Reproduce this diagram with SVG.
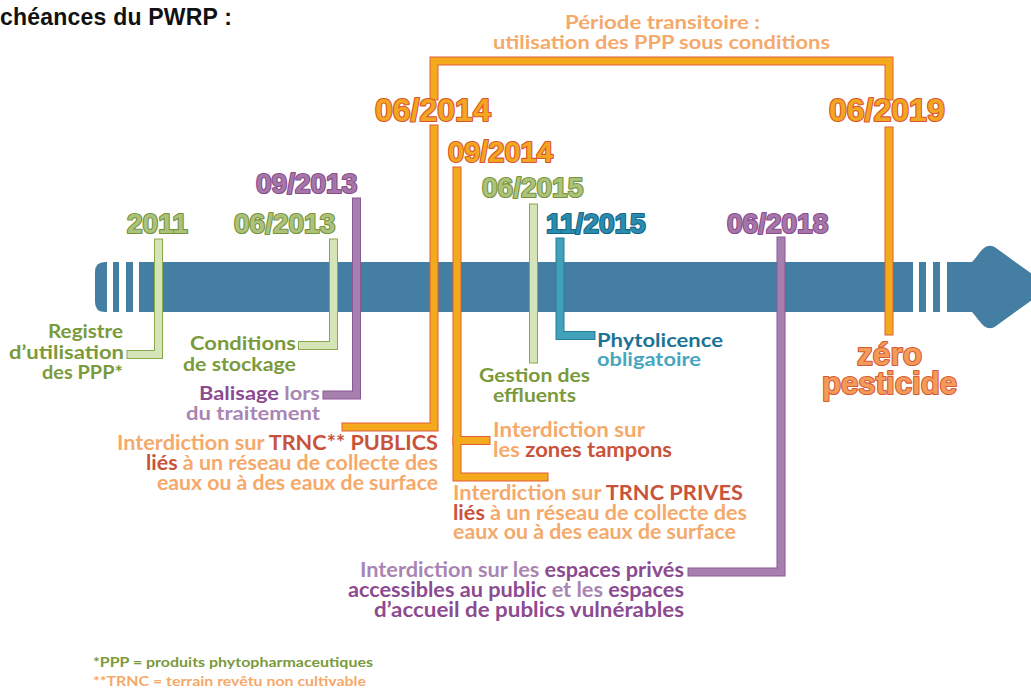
<svg xmlns="http://www.w3.org/2000/svg" xmlns:xlink="http://www.w3.org/1999/xlink" width="1031" height="688" viewBox="0 0 1031 688">
  <style>
    .title { font-family: "Liberation Sans", Arial, sans-serif; font-weight: 700; font-size: 23px; fill: #111; }
    .date { font-family: "Liberation Sans", Arial, sans-serif; font-weight: 700; paint-order: stroke; stroke-width: 2.2; stroke-linejoin: round; }
    .d-green { fill: #abc27c; stroke: #789339; }
    .d-purple { fill: #a676a9; stroke: #874d8c; }
    .d-orange { fill: #f3a61f; stroke: #d9552f; }
    .d-teal { fill: #2a8db0; stroke: #176584; }
    .d-zero { fill: #f39b58; stroke: #d65a36; }
    .lbl { font-family: Lato, "Open Sans", sans-serif; font-weight: 700; font-size: 19px; }
    .big { font-size: 20px; }
    .green { fill: #7a9a3b; }
    .plight { fill: #a985b3; }
    .pdark { fill: #8c4b91; }
    .olight { fill: #f5a96b; }
    .red { fill: #c9533a; }
    .tdark { fill: #1c7394; }
    .tlight { fill: #48a6c0; }
    .foot { font-size: 14px; }
    .ln { fill: none; stroke-linecap: square; stroke-linejoin: miter; }
    .o-green { stroke: #8aa64f; stroke-width: 9; }
    .i-green { stroke: #d5e5b8; stroke-width: 7; }
    .o-purple { stroke: #8a5894; stroke-width: 9; }
    .i-purple { stroke: #a67fae; stroke-width: 7; }
    .o-orange { stroke: #e05d38; stroke-width: 9; }
    .i-orange { stroke: #f3aa1c; stroke-width: 7; }
    .o-teal { stroke: #257f9c; stroke-width: 9; }
    .i-teal { stroke: #41a0ba; stroke-width: 7; }
  </style>
  <defs>
    <path id="p2011" d="M158.5,243 V354.5 H131"/>
    <path id="p0613" d="M333.5,243 V345.5 H302.5"/>
    <path id="p0913" d="M356.5,202 V395 H327"/>
    <path id="pBracket" d="M434,96 V61 H889 V96"/>
    <path id="p0614" d="M434,129 V427 H346"/>
    <path id="p0914" d="M457,171 V477 H544"/>
    <path id="p0914b" d="M457,440.5 H486"/>
    <path id="p0615" d="M533.5,208 V359"/>
    <path id="p1115" d="M560,242 V335.5 H591"/>
    <path id="p0618" d="M781,241 V572 H692"/>
    <path id="p0619" d="M889,131 V331"/>
  </defs>

  <rect width="1031" height="688" fill="#ffffff"/>

  <!-- timeline arrow -->
  <g id="timeline" fill="#447fa3">
    <path d="M107,262 H105 Q95,262 95,272 V302 Q95,312 105,312 H107 Z"/>
    <rect x="113" y="262" width="6" height="50"/>
    <rect x="126" y="262" width="7" height="50"/>
    <rect x="139" y="262" width="774" height="50"/>
    <rect x="919" y="262" width="7" height="50"/>
    <rect x="933" y="262" width="7" height="50"/>
    <path d="M947,262 H972 C976,258 980,251 984,248 C988,245 992,245 996,248 L1050,287 L996,326 C992,329 988,329 984,326 C980,323 976,316 972,312 H947 Z"/>
  </g>

  <!-- connectors -->
  <g id="connectors" class="ln">
    <use xlink:href="#p2011" class="o-green"/><use xlink:href="#p2011" class="i-green"/>
    <use xlink:href="#p0613" class="o-green"/><use xlink:href="#p0613" class="i-green"/>
    <use xlink:href="#p0913" class="o-purple"/><use xlink:href="#p0913" class="i-purple"/>
    <use xlink:href="#pBracket" class="o-orange"/><use xlink:href="#pBracket" class="i-orange"/>
    <use xlink:href="#p0614" class="o-orange"/><use xlink:href="#p0614" class="i-orange"/>
    <use xlink:href="#p0914" class="o-orange"/><use xlink:href="#p0914b" class="o-orange"/>
    <use xlink:href="#p0914" class="i-orange"/><use xlink:href="#p0914b" class="i-orange"/>
    <use xlink:href="#p0615" class="o-green"/><use xlink:href="#p0615" class="i-green"/>
    <use xlink:href="#p1115" class="o-teal"/><use xlink:href="#p1115" class="i-teal"/>
    <use xlink:href="#p0618" class="o-purple"/><use xlink:href="#p0618" class="i-purple"/>
    <use xlink:href="#p0619" class="o-orange"/><use xlink:href="#p0619" class="i-orange"/>
  </g>

  <!-- heading -->
  <g id="heading">
    <text class="title" x="0" y="25" textLength="232" lengthAdjust="spacing">chéances du PWRP :</text>
  </g>

  <g id="periode">
    <text class="lbl olight" x="565" y="29" font-size="20" textLength="195" lengthAdjust="spacingAndGlyphs">Période transitoire :</text>
    <text class="lbl olight" x="493" y="49" font-size="20" textLength="337" lengthAdjust="spacingAndGlyphs">utilisation des PPP sous conditions</text>
  </g>

  <!-- 2011 -->
  <g id="n2011">
    <text class="date d-green" x="127" y="233" font-size="28">2011</text>
    <text class="lbl green" x="48" y="338" textLength="75" lengthAdjust="spacingAndGlyphs">Registre</text>
    <text class="lbl green" x="9" y="359" textLength="115" lengthAdjust="spacingAndGlyphs">d’utilisation</text>
    <text class="lbl green" x="42" y="379" textLength="81" lengthAdjust="spacingAndGlyphs">des PPP*</text>
  </g>

  <!-- 06/2013 -->
  <g id="n062013">
    <text class="date d-green" x="234" y="233" font-size="28">06/2013</text>
    <text class="lbl green" x="190" y="350" textLength="106" lengthAdjust="spacingAndGlyphs">Conditions</text>
    <text class="lbl green" x="183" y="371" textLength="113" lengthAdjust="spacingAndGlyphs">de stockage</text>
  </g>

  <!-- 09/2013 -->
  <g id="n092013">
    <text class="date d-purple" x="256" y="193" font-size="28">09/2013</text>
    <text class="lbl" x="199" y="400" textLength="121" lengthAdjust="spacingAndGlyphs"><tspan class="pdark">Balisage</tspan><tspan class="plight"> lors</tspan></text>
    <text class="lbl plight" x="186" y="420" textLength="134" lengthAdjust="spacingAndGlyphs">du traitement</text>
  </g>

  <!-- 06/2014 -->
  <g id="n062014">
    <text class="date d-orange" x="375" y="121" font-size="32">06/2014</text>
    <text class="lbl big" x="117" y="450" textLength="321" lengthAdjust="spacingAndGlyphs"><tspan class="olight">Interdiction sur </tspan><tspan class="red">TRNC** PUBLICS</tspan></text>
    <text class="lbl big" x="146" y="470" textLength="292" lengthAdjust="spacingAndGlyphs"><tspan class="red">liés</tspan><tspan class="olight"> à un réseau de collecte des</tspan></text>
    <text class="lbl big olight" x="157" y="490" textLength="281" lengthAdjust="spacingAndGlyphs">eaux ou à des eaux de surface</text>
  </g>

  <!-- 09/2014 -->
  <g id="n092014">
    <text class="date d-orange" x="448" y="162" font-size="29">09/2014</text>
    <text class="lbl big olight" x="493" y="437" textLength="152" lengthAdjust="spacingAndGlyphs">Interdiction sur</text>
    <text class="lbl big" x="493" y="457" textLength="179" lengthAdjust="spacingAndGlyphs"><tspan class="olight">les </tspan><tspan class="red">zones tampons</tspan></text>
    <text class="lbl big" x="453" y="500" textLength="290" lengthAdjust="spacingAndGlyphs"><tspan class="olight">Interdiction sur </tspan><tspan class="red">TRNC PRIVES</tspan></text>
    <text class="lbl big" x="453" y="520" textLength="294" lengthAdjust="spacingAndGlyphs"><tspan class="red">liés</tspan><tspan class="olight"> à un réseau de collecte des</tspan></text>
    <text class="lbl big olight" x="453" y="539" textLength="283" lengthAdjust="spacingAndGlyphs">eaux ou à des eaux de surface</text>
  </g>

  <!-- 06/2015 -->
  <g id="n062015">
    <text class="date d-green" x="482" y="197" font-size="28">06/2015</text>
    <text class="lbl green" x="479" y="382" textLength="111" lengthAdjust="spacingAndGlyphs">Gestion des</text>
    <text class="lbl green" x="493" y="402" textLength="83" lengthAdjust="spacingAndGlyphs">effluents</text>
  </g>

  <!-- 11/2015 -->
  <g id="n112015">
    <text class="date d-teal" x="546" y="233" font-size="28">11/2015</text>
    <text class="lbl tdark" x="597" y="347" textLength="126" lengthAdjust="spacingAndGlyphs">Phytolicence</text>
    <text class="lbl tlight" x="597" y="366" textLength="104" lengthAdjust="spacingAndGlyphs">obligatoire</text>
  </g>

  <!-- 06/2018 -->
  <g id="n062018">
    <text class="date d-purple" x="727" y="233" font-size="28">06/2018</text>
    <text class="lbl big" x="360" y="577" textLength="324" lengthAdjust="spacingAndGlyphs"><tspan class="plight">Interdiction sur les </tspan><tspan class="pdark">espaces privés</tspan></text>
    <text class="lbl big" x="348" y="597" textLength="336" lengthAdjust="spacingAndGlyphs"><tspan class="pdark">accessibles au public</tspan><tspan class="plight"> et les </tspan><tspan class="pdark">espaces</tspan></text>
    <text class="lbl big pdark" x="374" y="617" textLength="310" lengthAdjust="spacingAndGlyphs">d’accueil de publics vulnérables</text>
  </g>

  <!-- 06/2019 -->
  <g id="n062019">
    <text class="date d-orange" x="829" y="121" font-size="32">06/2019</text>
    <text class="date d-zero" font-size="32"><tspan x="857" y="365" textLength="65" lengthAdjust="spacingAndGlyphs">zéro</tspan><tspan x="822" y="394" textLength="135" lengthAdjust="spacingAndGlyphs">pesticide</tspan></text>
  </g>

  <!-- footnotes -->
  <g id="notes">
    <text class="lbl foot green" x="93" y="667" textLength="280" lengthAdjust="spacingAndGlyphs">*PPP = produits phytopharmaceutiques</text>
    <text class="lbl foot olight" x="93" y="686" textLength="273" lengthAdjust="spacingAndGlyphs">**TRNC = terrain revêtu non cultivable</text>
  </g>
</svg>
